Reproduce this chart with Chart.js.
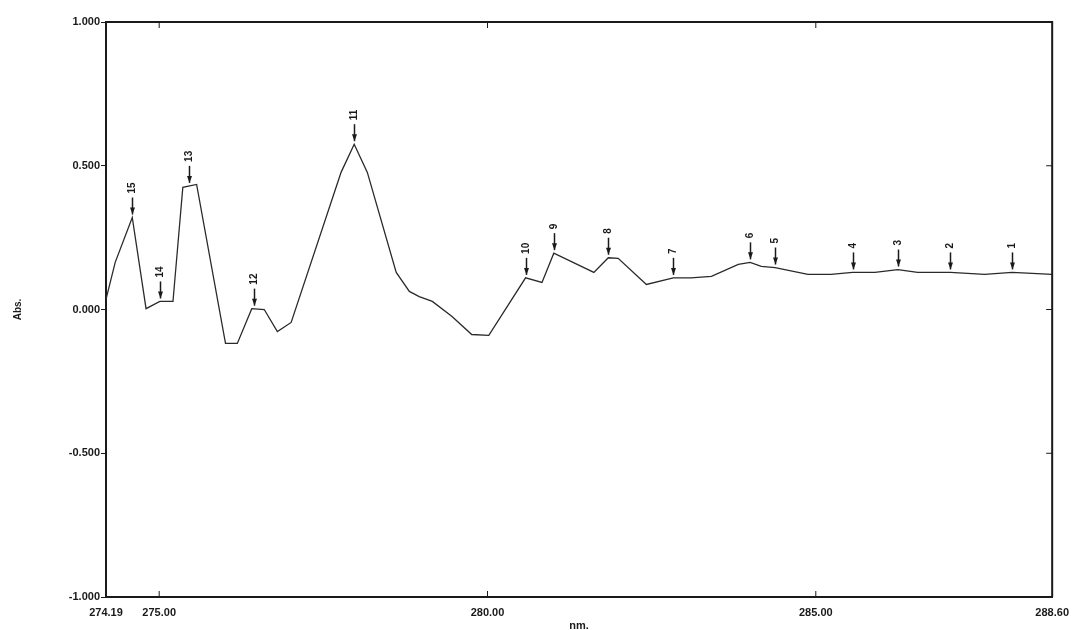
<!DOCTYPE html>
<html>
<head>
<meta charset="utf-8">
<script src="https://cdn.jsdelivr.net/npm/chart.js@4.4.1/dist/chart.umd.min.js"></script>
<style>
  html, body { margin: 0; padding: 0; background: #fff; }
  #wrap { width: 1078px; height: 630px; }
</style>
</head>
<body>
<div id="wrap"><canvas id="spec" width="1078" height="630"></canvas></div>
<script>
// wavelength (nm) and absorbance
const wavelengths = [274.19, 274.33, 274.59, 274.80, 275.01, 275.21, 275.36, 275.57, 276.01, 276.19,
  276.41, 276.60, 276.80, 277.01, 277.77, 277.97, 278.17, 278.61, 278.81, 278.96,
  279.16, 279.46, 279.76, 280.02, 280.58, 280.83, 281.01, 281.62, 281.84, 281.99,
  282.42, 282.83, 283.10, 283.41, 283.82, 284.00, 284.17, 284.38, 284.88, 285.23,
  285.56, 285.90, 286.25, 286.55, 287.05, 287.57, 287.99, 288.60];
const absorbance = [0.035, 0.164, 0.320, 0.003, 0.028, 0.028, 0.425, 0.435, -0.118, -0.118,
  0.003, 0.000, -0.077, -0.045, 0.477, 0.575, 0.477, 0.129, 0.063, 0.045,
  0.028, -0.024, -0.087, -0.090, 0.110, 0.094, 0.196, 0.129, 0.180, 0.178,
  0.087, 0.110, 0.110, 0.115, 0.157, 0.164, 0.150, 0.146, 0.122, 0.122,
  0.129, 0.129, 0.139, 0.129, 0.129, 0.122, 0.129, 0.122];

// peak picks
const peakLabels = ['1', '2', '3', '4', '5', '6', '7', '8', '9', '10', '11', '12', '13', '14', '15'];
const peakNm = [287.99, 287.05, 286.25, 285.56, 284.38, 284.00, 282.83, 281.84, 281.01, 280.58, 277.97, 276.45, 275.45, 275.01, 274.59];
const peakAbs = [0.129, 0.129, 0.139, 0.129, 0.146, 0.164, 0.110, 0.180, 0.196, 0.110, 0.575, 0.003, 0.430, 0.028, 0.320];

const xTicks = [274.19, 275.00, 280.00, 285.00, 288.60];
const yTicks = [-1.0, -0.5, 0.0, 0.5, 1.0];

const ink = '#1a1a1a';
const fontFamily = '"Liberation Sans", Arial, sans-serif';

const framePlugin = {
  id: 'frame',
  afterDraw(chart) {
    const { ctx, chartArea: a, scales } = chart;
    ctx.save();
    ctx.strokeStyle = ink;
    ctx.lineWidth = 2;
    ctx.beginPath();
    ctx.moveTo(a.left, a.top);
    ctx.lineTo(a.right, a.top);
    ctx.lineTo(a.right, a.bottom);
    ctx.stroke();

    // inward ticks on top, bottom and right
    ctx.lineWidth = 1;
    ctx.beginPath();
    [275, 280, 285].forEach(v => {
      const x = scales.x.getPixelForValue(v);
      ctx.moveTo(x, a.bottom);
      ctx.lineTo(x, a.bottom - 6);
      ctx.moveTo(x, a.top);
      ctx.lineTo(x, a.top + 6);
    });
    [-0.5, 0, 0.5].forEach(v => {
      const y = scales.y.getPixelForValue(v);
      ctx.moveTo(a.right, y);
      ctx.lineTo(a.right - 6, y);
    });
    ctx.stroke();

    // peak markers
    ctx.fillStyle = ink;
    ctx.font = 'bold 10px ' + fontFamily;
    ctx.textAlign = 'center';
    ctx.textBaseline = 'middle';
    peakLabels.forEach((lab, i) => {
      const x = Math.round(scales.x.getPixelForValue(peakNm[i])) + 0.5;
      const y = scales.y.getPixelForValue(peakAbs[i]);
      const tip = y - 3;
      ctx.beginPath();
      ctx.lineWidth = 1.5;
      ctx.moveTo(x, tip);
      ctx.lineTo(x, tip - 17);
      ctx.stroke();
      ctx.beginPath();
      ctx.moveTo(x, tip);
      ctx.lineTo(x - 2.5, tip - 7);
      ctx.lineTo(x + 2.5, tip - 7);
      ctx.closePath();
      ctx.fill();
      const w = ctx.measureText(lab).width;
      ctx.save();
      ctx.translate(x, tip - 21 - w / 2);
      ctx.rotate(-Math.PI / 2);
      ctx.fillText(lab, 0, 0);
      ctx.restore();
    });
    ctx.restore();
  }
};

const ctx = document.getElementById('spec').getContext('2d');

new Chart(ctx, {
  type: 'line',
  data: {
    datasets: [{
      data: wavelengths.map((w, i) => ({ x: w, y: absorbance[i] })),
      borderColor: '#2a2a2a',
      borderWidth: 1.3,
      pointRadius: 0,
      tension: 0,
      fill: false
    }]
  },
  options: {
    responsive: false,
    animation: false,
    events: [],
    layout: { padding: { left: 0, right: 22, top: 22, bottom: 0 }, autoPadding: false },
    plugins: {
      legend: { display: false },
      tooltip: { enabled: false }
    },
    scales: {
      x: {
        type: 'linear',
        min: 274.19,
        max: 288.60,
        afterBuildTicks: s => { s.ticks = xTicks.map(v => ({ value: v })); },
        afterFit: s => { s.height = 33; },
        grid: { display: false, drawTicks: false },
        border: { display: true, color: ink, width: 2 },
        ticks: {
          autoSkip: false,
          maxRotation: 0,
          minRotation: 0,
          padding: 9,
          color: ink,
          font: { family: fontFamily, size: 11, weight: 'bold' },
          callback: v => Number(v).toFixed(2)
        },
        title: {
          display: true,
          text: 'nm.',
          color: ink,
          padding: { top: 0, bottom: -3 },
          font: { family: fontFamily, size: 11, weight: 'bold' }
        }
      },
      y: {
        min: -1,
        max: 1,
        afterBuildTicks: s => { s.ticks = yTicks.map(v => ({ value: v })); },
        afterFit: s => { s.width = 106; },
        grid: { display: true, drawOnChartArea: false, drawTicks: true, tickLength: 5, color: ink },
        border: { display: true, color: ink, width: 2 },
        ticks: {
          padding: 1,
          color: ink,
          font: { family: fontFamily, size: 11, weight: 'bold' },
          callback: v => Number(v).toFixed(3)
        },
        title: {
          display: true,
          text: 'Abs.',
          color: ink,
          padding: { top: 12, bottom: 0 },
          font: { family: fontFamily, size: 10, weight: 'bold' }
        }
      }
    }
  },
  plugins: [framePlugin]
});
</script>
</body>
</html>
